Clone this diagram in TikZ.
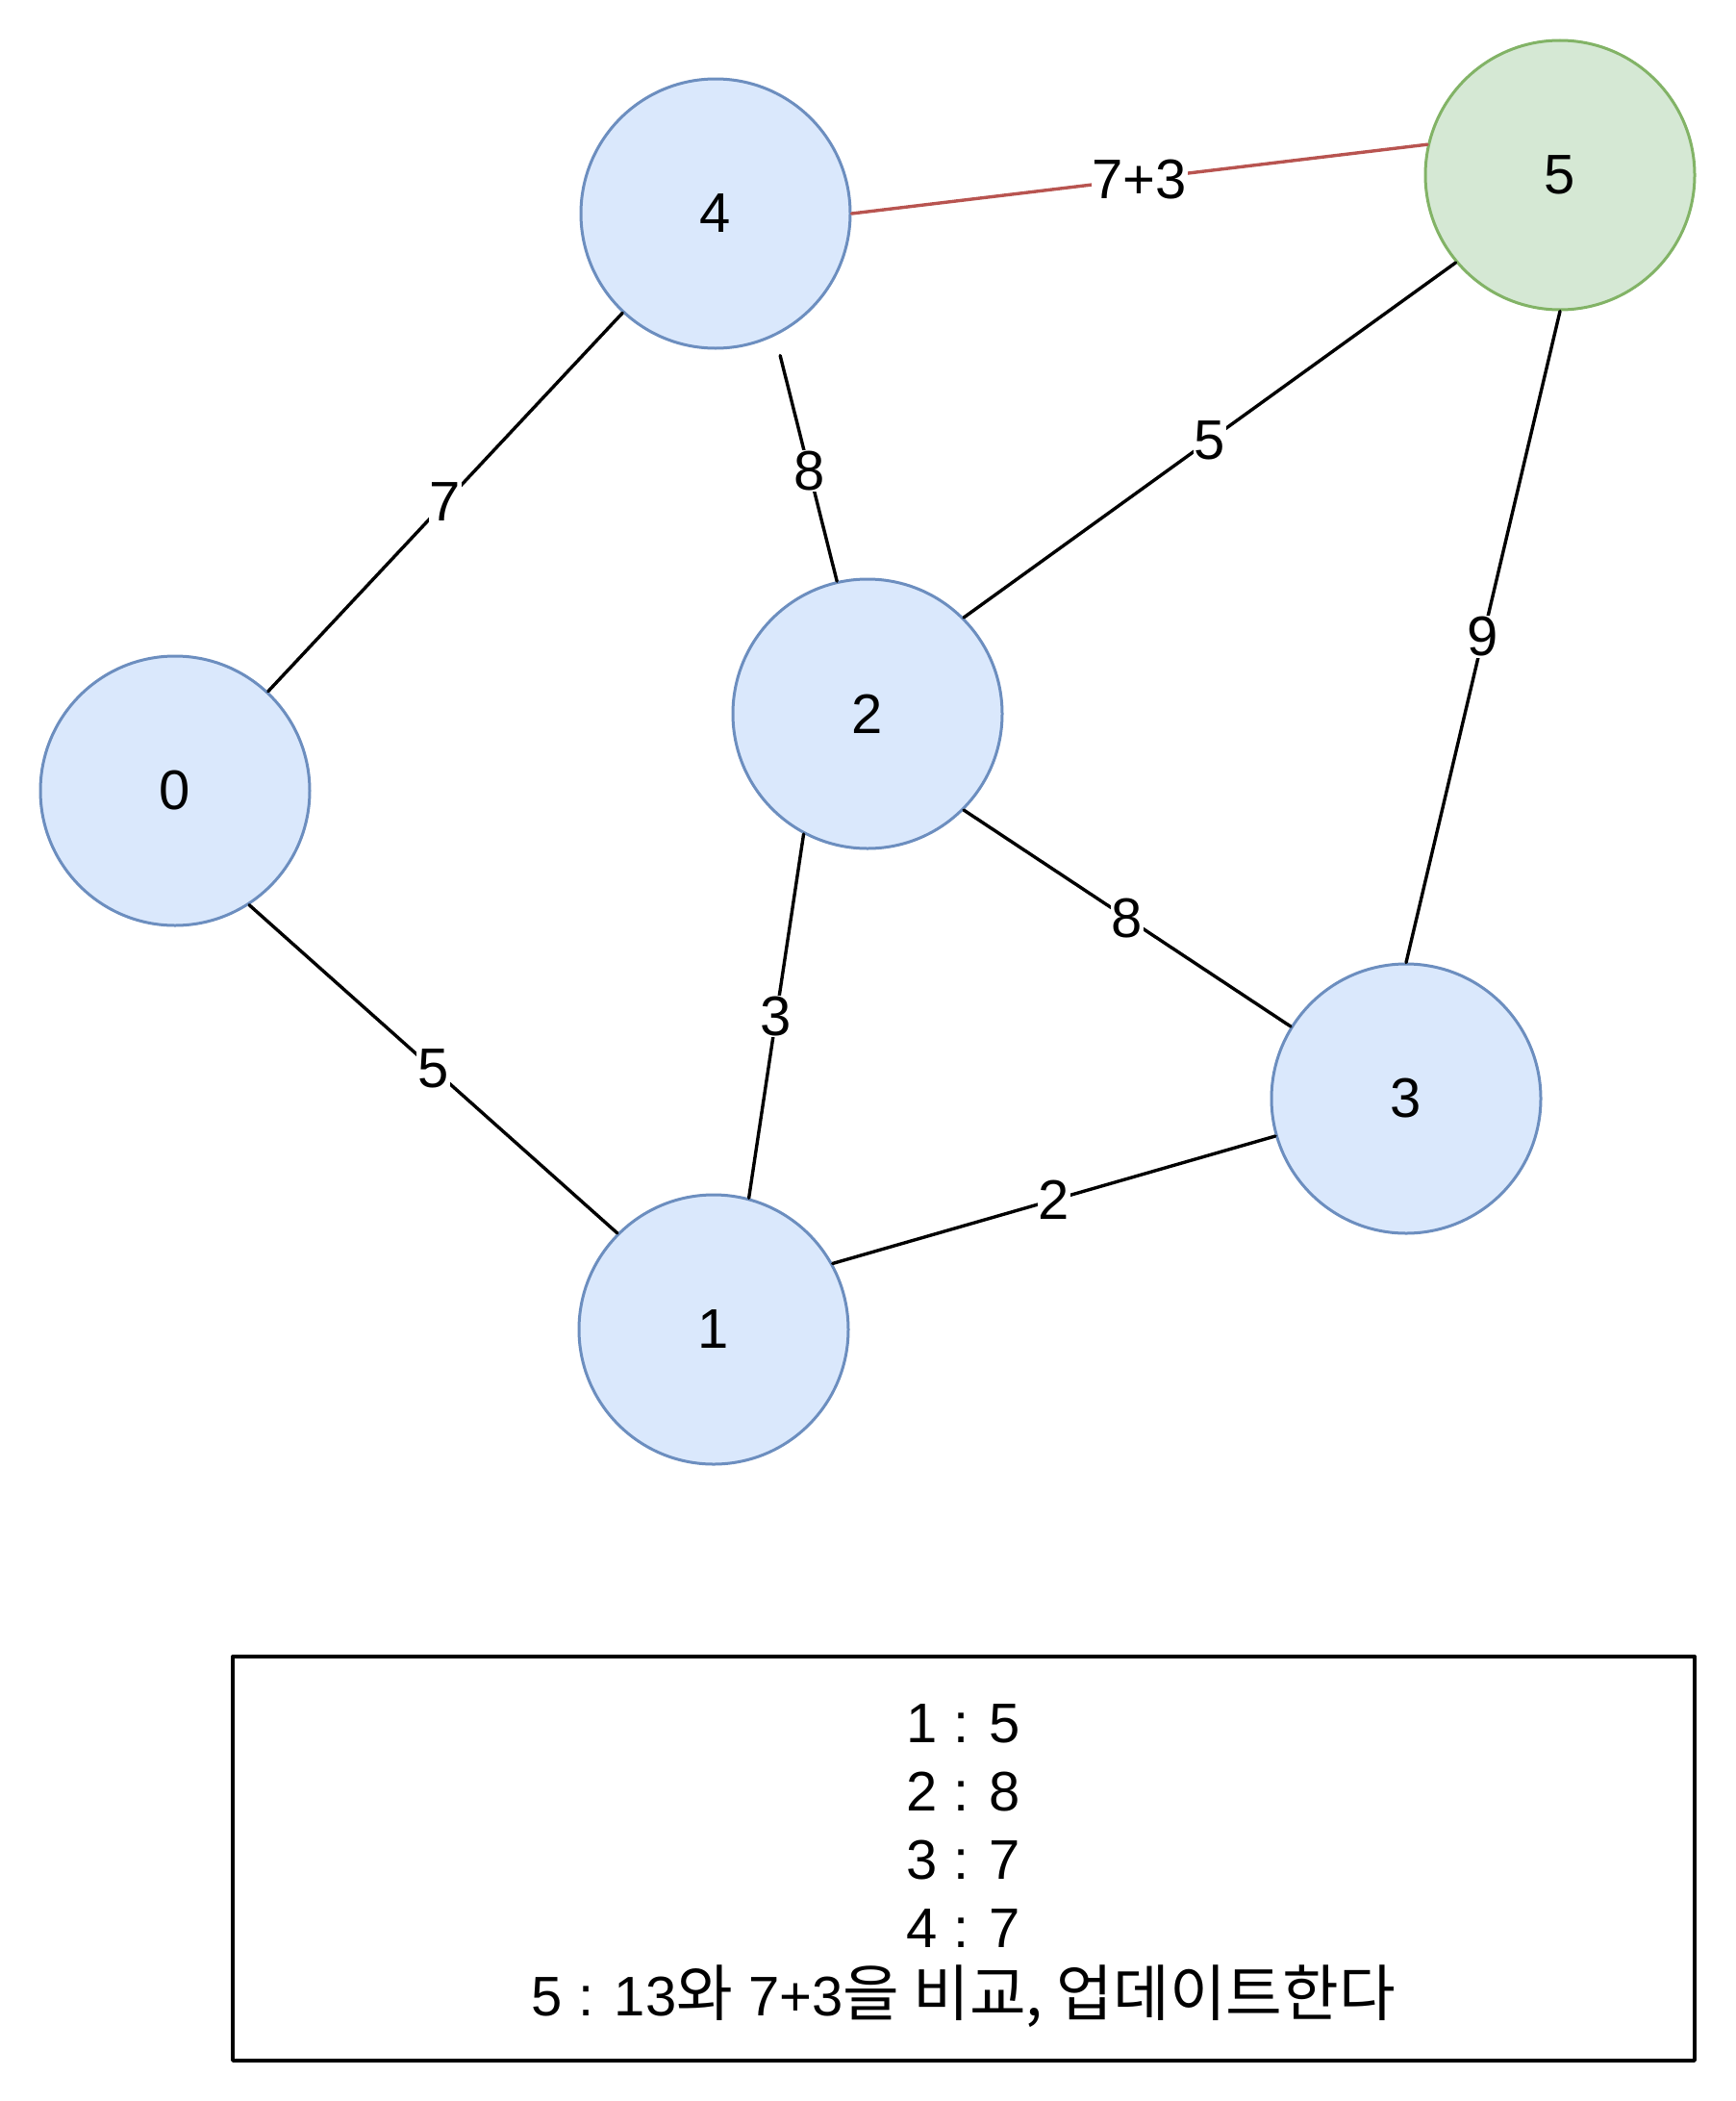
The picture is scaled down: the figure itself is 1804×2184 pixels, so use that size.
\documentclass[tikz,border=0pt]{standalone}
\usepackage{fontspec}
\setmainfont{Liberation Sans}
\newfontfamily\krfont[Scale=1.1]{Noto Sans CJK KR}
\newcommand{\bigtext}{\fontsize{58}{71}\selectfont}
\definecolor{vfill}{HTML}{DAE8FC}
\definecolor{vline}{HTML}{6C8EBF}
\definecolor{gfill}{HTML}{D5E8D4}
\definecolor{gline}{HTML}{82B366}
\definecolor{rline}{HTML}{B85450}
\begin{document}
\begin{tikzpicture}[x=1pt,y=-1pt,line cap=round,line join=round,font=\bigtext,
	vertex/.style={circle,draw=vline,fill=vfill,line width=3pt,minimum size=280pt,inner sep=0pt},
	goal/.style={vertex,draw=gline,fill=gfill},
	edge/.style={line width=3.4pt},
	wlabel/.style={fill=white,inner sep=1pt}]
	\useasboundingbox (0,0) rectangle (1804,2184);
	\foreach \x/\y/\name in {182/822/0,742/1382/1,902/742/2,1462/1142/3,744/222/4}
	\node[vertex] (n\name) at (\x,\y) {\name};
	\node[goal] (n5) at (1622,182) {5};
	\foreach \a/\b/\w in {n0/n4/7,n0.-57/n1.135/5,n2.242/n1.75/3,n1.29/n3.196/2,n2.-45/n3.148/8,n2.45/n5.220/5,n3.north/n5.south/9}
	\draw[edge] (\a) -- (\b) node[midway,wlabel] {\w};
	\draw[edge,shorten <=21pt] (n4.-64) -- (n2.103) node[pos=.55,wlabel] {8};
	\draw[edge,rline] (n4.east) -- (n5.167) node[midway,wlabel,text=black] {7+3};
	\node[draw,line width=3.4pt,minimum width=1520pt,minimum height=420pt] (memo) at (1002,1932) {};
	\node[align=center] (memotext) at ([yshift=-8pt]memo.center)
	{1 : 5\\2 : 8\\3 : 7\\4 : 7\\5 : 13{\krfont 와} 7+3{\krfont 을 비교, 업데이트한다}};
\end{tikzpicture}
\end{document}
